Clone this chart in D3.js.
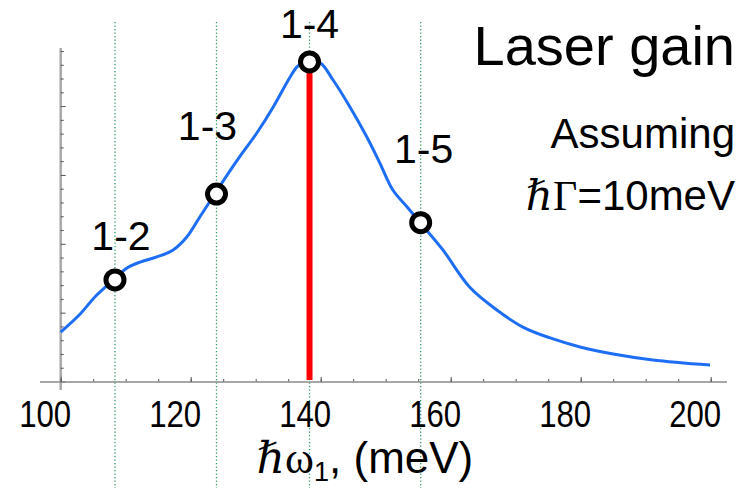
<!DOCTYPE html>
<html>
<head>
<meta charset="utf-8">
<script src="https://cdn.jsdelivr.net/npm/d3@7"></script>
<style>
  body { margin: 0; background: #fff; }
  svg { display: block; }
  text { font-family: "Liberation Sans", Arial, sans-serif; fill: #000; }
</style>
</head>
<body>
<svg id="chart" width="753" height="488"></svg>
<script>
// photon energy (meV) along the gain curve
var energy = [100, 103, 105.4, 108.1, 110.2, 112.2, 114.8, 117.3, 119.4, 121.4, 123.7, 125.7,
              127.6, 130.2, 132.7, 135.3, 136.5, 138.0, 139.9, 141.9, 144.5, 147.1, 149.1,
              151.1, 153.3, 155.3, 158.8, 162.9, 167.1, 171.1, 175.3, 179.9, 185.0, 191.1, 199.9];
// gain, arbitrary units
var gain = [3.63, 4.94, 6.25, 7.41, 8.28, 8.71, 9.08, 9.59, 10.53, 11.98, 13.65, 15.1,
            16.4, 18.1, 19.97, 22.15, 22.95, 23.24, 23.17, 21.93, 19.97, 17.79, 15.9,
            13.94, 12.71, 11.57, 9.59, 6.9, 5.23, 3.99, 3.2, 2.54, 2.03, 1.6, 1.23];

// transitions marked on the curve
var transitions = ["1-2", "1-3", "1-4", "1-5"];
var transEnergy = [108.35, 123.97, 138.28, 155.38];
var transGain = [7.41, 13.65, 23.24, 11.57];

var xTicks = [100, 120, 140, 160, 180, 200];

var svg = d3.select("#chart");

var x = d3.scaleLinear().domain([100, 200]).range([60.7, 710.7]);
var y = d3.scaleLinear().domain([0, 24]).range([382, 51.5]);

// green dotted guide lines
svg.selectAll(".guide")
  .data(transEnergy)
  .enter().append("line")
  .attr("class", "guide")
  .attr("x1", function(d) { return x(d); })
  .attr("x2", function(d) { return x(d); })
  .attr("y1", 22)
  .attr("y2", 488)
  .attr("stroke", "#2f9a63")
  .attr("stroke-width", 1.3)
  .attr("stroke-dasharray", "1.3,2.2");

// y axis (no labels)
svg.append("line")
  .attr("x1", x(100)).attr("x2", x(100))
  .attr("y1", 48).attr("y2", 390)
  .attr("stroke", "#a8a8a8").attr("stroke-width", 2.5);

svg.selectAll(".ytick")
  .data(d3.range(0, 25))
  .enter().append("line")
  .attr("class", "ytick")
  .attr("x1", x(100))
  .attr("x2", function(d) { return x(100) + (d % 5 === 0 ? 5 : 3); })
  .attr("y1", function(d) { return y(d); })
  .attr("y2", function(d) { return y(d); })
  .attr("stroke", "#555").attr("stroke-width", 1);

// x axis
var xMinor = svg.append("g")
  .attr("transform", "translate(0," + y(0) + ")")
  .call(d3.axisBottom(x).tickValues(d3.range(100, 201, 5)).tickSize(-3).tickFormat(""));
xMinor.select(".domain").remove();
xMinor.selectAll("line").attr("stroke", "#555");

svg.append("line")
  .attr("x1", 40).attr("x2", 727)
  .attr("y1", y(0)).attr("y2", y(0))
  .attr("stroke", "#8a8a8a").attr("stroke-width", 1.6);

var xMajor = svg.append("g")
  .attr("transform", "translate(0," + y(0) + ")")
  .call(d3.axisBottom(x).tickValues(xTicks).tickSize(-5).tickPadding(0));
xMajor.select(".domain").remove();
xMajor.selectAll("line").attr("stroke", "#555");
xMajor.selectAll("text")
  .attr("font-family", "Liberation Sans, Arial, sans-serif")
  .attr("font-size", 36)
  .attr("fill", "#000")
  .attr("dy", null)
  .attr("y", 45)
  .attr("dx", -16)
  .attr("textLength", 52)
  .attr("lengthAdjust", "spacingAndGlyphs");

// red bar at peak
svg.append("rect")
  .attr("x", x(transEnergy[2]) - 3)
  .attr("y", y(transGain[2]))
  .attr("width", 6)
  .attr("height", y(0) - y(transGain[2]) - 2)
  .attr("fill", "#ff0000");

// gain curve
var pts = energy.map(function(e, i) { return [e, gain[i]]; });
var line = d3.line()
  .x(function(d) { return x(d[0]); })
  .y(function(d) { return y(d[1]); })
  .curve(d3.curveCatmullRom.alpha(0.5));

svg.append("path")
  .datum(pts)
  .attr("d", line)
  .attr("fill", "none")
  .attr("stroke", "#1e6ef5")
  .attr("stroke-width", 3);

// markers
svg.selectAll(".mark")
  .data(transEnergy)
  .enter().append("circle")
  .attr("class", "mark")
  .attr("cx", function(d) { return x(d); })
  .attr("cy", function(d, i) { return y(transGain[i]); })
  .attr("r", 9)
  .attr("fill", "#fff")
  .attr("stroke", "#000")
  .attr("stroke-width", 5);

// transition labels
var labelOff = [[6, -30], [-9, -54], [0, -24], [3, -60]];
svg.selectAll(".tlabel")
  .data(transitions)
  .enter().append("text")
  .attr("class", "tlabel")
  .attr("x", function(d, i) { return x(transEnergy[i]) + labelOff[i][0]; })
  .attr("y", function(d, i) { return y(transGain[i]) + labelOff[i][1]; })
  .attr("text-anchor", "middle")
  .attr("font-size", 41)
  .text(function(d) { return d; });

// title and note
svg.append("text")
  .attr("x", 735).attr("y", 65)
  .attr("text-anchor", "end")
  .attr("font-size", 56)
  .text("Laser gain");

svg.append("text")
  .attr("x", 735).attr("y", 148)
  .attr("text-anchor", "end")
  .attr("font-size", 42)
  .text("Assuming");

var note = svg.append("text")
  .attr("x", 735).attr("y", 210)
  .attr("text-anchor", "end")
  .attr("font-size", 42);
note.append("tspan").attr("font-family", "DejaVu Serif, serif").text("ℏ");
note.append("tspan").attr("font-family", "Liberation Serif, serif").text("Γ");
note.append("tspan").text("=10meV");

// x axis title
var xt = svg.append("text")
  .attr("x", 365).attr("y", 473)
  .attr("text-anchor", "middle")
  .attr("font-size", 44);
xt.append("tspan").attr("font-family", "DejaVu Serif, serif").text("ℏ");
xt.append("tspan").attr("font-family", "Liberation Serif, serif").text("ω");
xt.append("tspan").attr("font-size", 27).attr("dy", 8).text("1");
xt.append("tspan").attr("dy", -8).text(", (meV)");
</script>
</body>
</html>
